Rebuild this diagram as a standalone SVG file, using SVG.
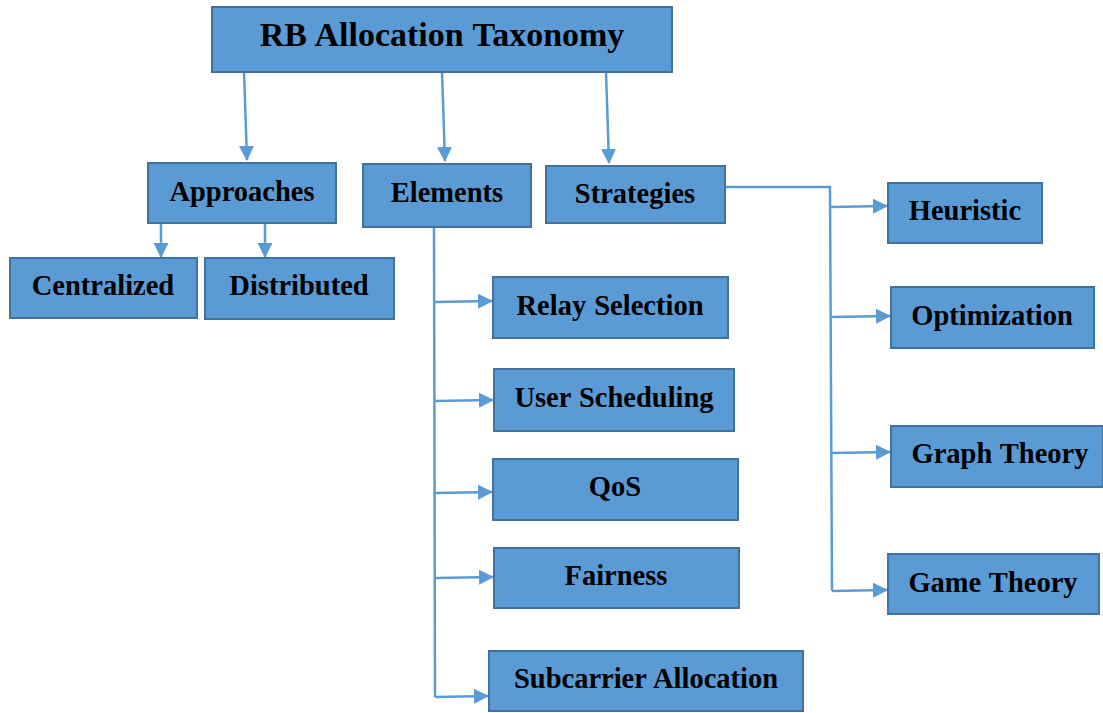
<svg xmlns="http://www.w3.org/2000/svg" width="1103" height="713" viewBox="0 0 1103 713">
  <style>
    .box { fill: #5B9BD5; stroke: #41719C; stroke-width: 2; }
    .lbl { font-family: "Liberation Serif", "Times New Roman", serif; font-weight: bold; font-size: 28.5px; fill: #000; text-anchor: middle; word-spacing: 1px; }
    .title { font-size: 34px; }
    .wire { fill: none; stroke: #5B9BD5; stroke-width: 2.5; }
  </style>
  <defs>
    <marker id="arrow" markerUnits="userSpaceOnUse" markerWidth="15" markerHeight="15" viewBox="0 0 15 15" refX="14" refY="7.5" orient="auto">
      <path d="M0,0 L15,7.5 L0,15 Z" fill="#5B9BD5"/>
    </marker>
  </defs>
  <rect width="1103" height="713" fill="#fff"/>

  <!-- connectors -->
  <g id="connectors">
    <path class="wire" d="M244,72 L247,160" marker-end="url(#arrow)"/>
    <path class="wire" d="M442,72 L445,161" marker-end="url(#arrow)"/>
    <path class="wire" d="M606,72 L609,163" marker-end="url(#arrow)"/>

    <path class="wire" d="M161,223 L161,257" marker-end="url(#arrow)"/>
    <path class="wire" d="M265,223 L265,257" marker-end="url(#arrow)"/>

    <path class="wire" d="M434,227 L435,697"/>
    <path class="wire" d="M435,302 L492,301" marker-end="url(#arrow)"/>
    <path class="wire" d="M435,401 L493,400" marker-end="url(#arrow)"/>
    <path class="wire" d="M435,493 L492,492" marker-end="url(#arrow)"/>
    <path class="wire" d="M435,578 L493,577" marker-end="url(#arrow)"/>
    <path class="wire" d="M435,697 L488,696" marker-end="url(#arrow)"/>

    <path class="wire" d="M725,187 L830,187 L832,591"/>
    <path class="wire" d="M831,207 L887,206" marker-end="url(#arrow)"/>
    <path class="wire" d="M831,317 L890,316" marker-end="url(#arrow)"/>
    <path class="wire" d="M832,453 L890,452" marker-end="url(#arrow)"/>
    <path class="wire" d="M832,591 L887,590" marker-end="url(#arrow)"/>
  </g>

  <g id="root">
    <rect class="box" x="212" y="7" width="460" height="65"/>
    <text class="lbl title" x="442" y="46">RB Allocation Taxonomy</text>
  </g>

  <g id="approaches">
    <rect class="box" x="148" y="163" width="188" height="60"/>
    <text class="lbl" x="242" y="201">Approaches</text>
  </g>
  <g id="elements">
    <rect class="box" x="363" y="164" width="168" height="63"/>
    <text class="lbl" x="447" y="202">Elements</text>
  </g>
  <g id="strategies">
    <rect class="box" x="546" y="166" width="179" height="57"/>
    <text class="lbl" x="635" y="203">Strategies</text>
  </g>

  <g id="centralized">
    <rect class="box" x="10" y="258" width="187" height="60"/>
    <text class="lbl" x="103" y="295">Centralized</text>
  </g>
  <g id="distributed">
    <rect class="box" x="205" y="258" width="189" height="61"/>
    <text class="lbl" x="299" y="295">Distributed</text>
  </g>

  <g id="relay-selection">
    <rect class="box" x="493" y="277" width="235" height="61"/>
    <text class="lbl" x="610" y="315">Relay Selection</text>
  </g>
  <g id="user-scheduling">
    <rect class="box" x="494" y="369" width="240" height="62"/>
    <text class="lbl" x="614" y="407">User Scheduling</text>
  </g>
  <g id="qos">
    <rect class="box" x="493" y="459" width="245" height="61"/>
    <text class="lbl" x="615" y="496">QoS</text>
  </g>
  <g id="fairness">
    <rect class="box" x="494" y="548" width="245" height="60"/>
    <text class="lbl" x="616" y="585">Fairness</text>
  </g>
  <g id="subcarrier-allocation">
    <rect class="box" x="489" y="651" width="314" height="60"/>
    <text class="lbl" x="646" y="688">Subcarrier Allocation</text>
  </g>

  <g id="heuristic">
    <rect class="box" x="888" y="183" width="154" height="60"/>
    <text class="lbl" x="965" y="220">Heuristic</text>
  </g>
  <g id="optimization">
    <rect class="box" x="891" y="287" width="203" height="61"/>
    <text class="lbl" x="992" y="325">Optimization</text>
  </g>
  <g id="graph-theory">
    <rect class="box" x="891" y="426" width="212" height="61"/>
    <text class="lbl" x="1000" y="463">Graph Theory</text>
  </g>
  <g id="game-theory">
    <rect class="box" x="888" y="554" width="211" height="60"/>
    <text class="lbl" x="993" y="592">Game Theory</text>
  </g>
</svg>
